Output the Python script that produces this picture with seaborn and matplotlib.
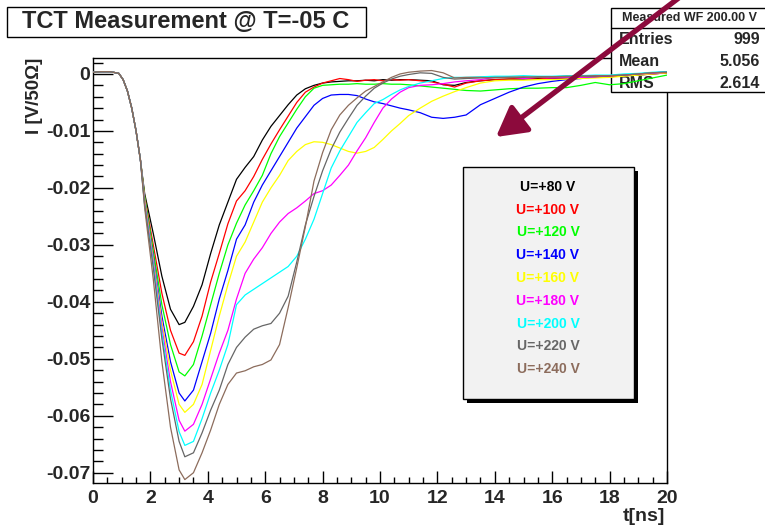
import numpy as np
import pandas as pd
import matplotlib
matplotlib.use("Agg")
import matplotlib.pyplot as plt
from matplotlib.patches import Rectangle
from matplotlib.ticker import MultipleLocator, FuncFormatter
import seaborn as sns

# bias voltages and colours (ROOT style)
voltages = ["U=+80 V", "U=+100 V", "U=+120 V", "U=+140 V", "U=+160 V",
            "U=+180 V", "U=+200 V", "U=+220 V", "U=+240 V"]
colors = ["#000000", "#ff0000", "#00ff00", "#0000ff", "#ffff00",
          "#ff00ff", "#00ffff", "#666666", "#8c6c5c"]

# time samples [ns]; the first part is common to all waveforms
t_head = [0.0, 0.3, 0.6, 0.9, 1.05, 1.2, 1.35, 1.5, 1.65]
i_head = [0.3, 0.4, 0.4, 0.1, -1.0, -3.0, -6.0, -10.0, -15.0]   # mV/50 Ohm
t_tail = [1.8, 2.1, 2.4, 2.7, 3.0, 3.2, 3.5, 3.8, 4.1, 4.4, 4.7, 5.0, 5.3,
          5.6, 5.9, 6.2, 6.5, 6.8, 7.1, 7.4, 7.7, 8.0, 8.3, 8.6, 8.9, 9.2,
          9.5, 9.8, 10.1, 10.4, 10.7, 11.0, 11.4, 11.8, 12.2, 12.6, 13.0,
          13.5, 14.0, 14.5, 15.0, 15.5, 16.0, 16.5, 17.0, 17.5, 18.0, 18.5,
          19.0, 19.5, 20.0]

i_80 = [-21.0, -28.0, -35.5, -41.3, -44.0, -43.6, -40.8, -37.0, -31.5, -26.5,
        -22.5, -18.5, -16.4, -14.5, -11.6, -9.2, -7.3, -5.4, -3.7, -2.6, -2.0,
        -1.6, -1.4, -1.3, -1.2, -1.2, -1.1, -1.2, -1.0, -1.1, -1.0, -1.0, -1.1,
        -1.2, -1.9, -2.0, -1.5, -1.2, -1.0, -0.9, -0.9, -0.8, -0.8, -0.7, -0.6,
        -0.6, -0.5, -0.3, -0.2, 0.0, 0.2]
i_100 = [-21.5, -30.0, -38.5, -45.0, -49.0, -49.4, -47.0, -42.5, -36.5, -31.5,
         -26.3, -22.3, -20.5, -18.0, -15.0, -12.3, -9.8, -7.4, -5.0, -3.2, -2.3,
         -1.6, -1.2, -0.8, -1.0, -1.3, -1.1, -1.0, -1.2, -1.0, -1.1, -1.0, -1.2,
         -1.4, -1.8, -2.3, -1.6, -1.2, -1.0, -0.9, -0.8, -0.9, -0.7, -0.7, -0.6,
         -0.5, -0.5, -0.3, -0.1, 0.0, 0.2]
i_120 = [-21.5, -31.0, -40.5, -47.5, -52.3, -53.0, -51.0, -46.0, -40.5, -35.0,
         -30.0, -26.2, -23.0, -20.5, -17.8, -14.0, -11.0, -8.6, -6.2, -4.0, -2.5,
         -2.0, -1.9, -1.8, -1.8, -1.7, -1.8, -1.8, -1.7, -1.8, -1.8, -1.9, -2.1,
         -2.3, -2.5, -2.7, -2.9, -3.0, -2.8, -2.6, -2.5, -2.5, -2.4, -2.4, -2.0,
         -1.5, -1.9, -1.7, -1.2, -0.7, -0.2]
i_140 = [-22.0, -32.0, -42.5, -50.5, -56.0, -57.4, -55.5, -50.5, -45.5, -39.5,
         -34.5, -29.0, -26.5, -22.5, -19.5, -17.0, -14.5, -12.0, -9.5, -7.5, -5.5,
         -4.3, -3.7, -3.6, -3.6, -3.8, -4.4, -4.9, -5.2, -5.6, -6.0, -6.3, -6.8,
         -7.6, -7.8, -7.6, -7.2, -5.4, -4.3, -3.2, -2.3, -1.7, -1.3, -1.0, -0.8,
         -0.5, -0.3, -0.2, 0.0, 0.2, 0.4]
i_160 = [-22.0, -32.5, -43.5, -52.0, -58.0, -59.4, -58.0, -54.5, -48.5, -42.5,
         -37.0, -32.0, -29.5, -26.0, -22.5, -20.0, -17.8, -15.2, -13.6, -12.4,
         -11.9, -12.0, -12.4, -13.0, -13.6, -13.9, -13.6, -12.9, -11.5, -10.0,
         -8.7, -7.3, -6.0, -4.8, -3.9, -3.1, -2.4, -1.6, -1.2, -1.1, -1.1, -1.0,
         -1.0, -0.9, -0.8, -0.7, -0.6, -0.4, -0.2, 0.0, 0.2]
i_180 = [-22.5, -33.0, -44.5, -54.0, -60.8, -62.7, -61.5, -58.0, -53.5, -49.0,
         -45.0, -39.5, -35.0, -32.5, -30.5, -28.0, -26.0, -24.5, -23.5, -22.3,
         -21.0, -20.5, -19.5, -17.8, -16.0, -13.5, -11.2, -8.5, -6.0, -4.4, -3.2,
         -2.4, -2.0, -1.9, -1.7, -1.4, -1.2, -1.0, -0.6, -0.5, -0.8, -0.6, -0.7,
         -0.6, -0.6, -0.5, -0.3, -0.2, 0.0, 0.1, 0.3]
i_200 = [-23.0, -33.5, -45.5, -55.5, -62.8, -65.2, -64.5, -60.5, -56.0, -52.0,
         -47.5, -40.5, -38.8, -37.8, -36.8, -35.8, -34.8, -33.8, -32.0, -29.0,
         -25.5, -21.0, -16.5, -13.5, -11.0, -8.5, -6.8, -5.2, -4.5, -3.6, -2.8,
         -2.2, -1.6, -1.2, -0.8, -0.6, -0.6, -0.5, -0.4, -0.4, -0.3, -0.4, -0.4,
         -0.3, -0.3, -0.2, -0.2, 0.0, 0.1, 0.3, 0.4]
i_220 = [-23.0, -34.0, -46.5, -57.0, -64.5, -67.2, -66.5, -63.0, -59.0, -55.5,
         -51.0, -48.0, -46.2, -44.8, -44.2, -43.8, -42.0, -39.0, -33.0, -26.5,
         -21.5, -17.0, -13.2, -10.2, -7.8, -5.5, -3.9, -2.5, -1.6, -0.9, -0.4,
         -0.1, 0.2, 0.1, -0.6, -0.9, -0.8, -0.7, -0.6, -0.6, -0.6, -0.5, -0.5,
         -0.5, -0.4, -0.4, -0.3, -0.2, 0.0, 0.2, 0.3]
i_240 = [-23.5, -36.0, -50.5, -62.0, -69.5, -71.2, -70.0, -66.5, -62.5, -58.0,
         -54.5, -52.5, -52.1, -51.4, -51.0, -50.2, -47.5, -41.0, -34.0, -26.8,
         -18.8, -13.8, -9.8, -7.2, -5.5, -4.2, -3.0, -2.2, -1.4, -0.6, 0.0, 0.3,
         0.5, 0.6, 0.2, -0.7, -0.6, -0.6, -0.7, -0.6, -0.5, -0.6, -0.5, -0.4,
         -0.4, -0.3, -0.3, -0.2, 0.0, 0.2, 0.3]
waveforms = [i_80, i_100, i_120, i_140, i_160, i_180, i_200, i_220, i_240]

stats_title = "Measured WF 200.00 V"
stats_names = ["Entries", "Mean", "RMS"]
stats_values = ["999", "5.056", "2.614"]

rows = []
for lab, wf in zip(voltages, waveforms):
    for t, v in zip(t_head + t_tail, i_head + wf):
        rows.append((lab, t, v / 1000.0))
df = pd.DataFrame(rows, columns=["U", "t", "I"])

sns.set_style("white")
plt.rcParams["font.family"] = ["Liberation Sans", "DejaVu Sans"]
plt.rcParams["font.weight"] = "bold"
plt.rcParams["axes.unicode_minus"] = False

W, H = 765, 532
fig = plt.figure(figsize=(W / 100, H / 100), dpi=100)
ax = fig.add_axes([93 / W, 1 - 483 / H, 574 / W, 425 / H])

def fx(x): return x / W
def fy(y): return 1 - y / H

sns.lineplot(data=df, x="t", y="I", hue="U", palette=colors, estimator=None,
             sort=False, legend=False, lw=0.9, ax=ax)

ax.set_xlim(0, 20)
ax.set_ylim(-0.0718, 0.0028)
ax.xaxis.set_major_locator(MultipleLocator(2))
ax.xaxis.set_minor_locator(MultipleLocator(0.5))
ax.yaxis.set_major_locator(MultipleLocator(0.01))
ax.yaxis.set_minor_locator(MultipleLocator(0.002))
ax.yaxis.set_major_formatter(FuncFormatter(lambda v, p: f"{round(v, 3):g}"))
ax.xaxis.set_major_formatter(FuncFormatter(lambda v, p: f"{v:g}"))
ax.tick_params(axis="both", which="both", direction="in", color="black",
               width=1.0, labelsize=14, bottom=True, left=True,
               top=False, right=False)
ax.tick_params(axis="x", which="major", length=9, pad=5)
ax.tick_params(axis="x", which="minor", length=4.5)
ax.tick_params(axis="y", which="major", length=14.5, pad=2)
ax.tick_params(axis="y", which="minor", length=7.2)
for lbl in ax.get_xticklabels() + ax.get_yticklabels():
    lbl.set_fontweight("bold")
for s in ax.spines.values():
    s.set_color("black")
    s.set_linewidth(1.0)
    s.set_zorder(1)

ax.set_xlabel("t[ns]", fontsize=14, fontweight="bold", loc="right")
ax.xaxis.set_label_coords((665 - 93) / 574, (483 - 508) / 425)
ax.set_ylabel("I [V/50\u03a9]", fontsize=13.5, fontweight="bold", loc="top")
ax.yaxis.set_label_coords((43 - 93) / 574, 1.0)

# title box
fig.add_artist(Rectangle((fx(7), fy(37)), fx(359), 30 / H, transform=fig.transFigure,
                         fc="white", ec="black", lw=1.0))
fig.text(fx(186), fy(22), "TCT Measurement @ T=-05 C", ha="center", va="center",
         fontsize=17, fontweight="bold")

# stats box (under the curves)
ax.add_patch(Rectangle((fx(611), fy(92)), fx(170), 84 / H, transform=fig.transFigure,
                       fc="white", ec="black", lw=1.0, zorder=1.5, clip_on=False))
ax.add_line(plt.Line2D([fx(611), 1.0], [fy(28), fy(28)], transform=fig.transFigure,
                       color="black", lw=1.0, zorder=1.6, clip_on=False))
ax.text(fx(689), fy(18), stats_title, transform=fig.transFigure, ha="center",
        va="center", fontsize=9, fontweight="bold", zorder=1.7, clip_on=False)
for k, (nm, val) in enumerate(zip(stats_names, stats_values)):
    yy = fy(40 + 21.5 * k)
    ax.text(fx(619), yy, nm, transform=fig.transFigure, ha="left", va="center",
            fontsize=11.5, fontweight="bold", zorder=1.7, clip_on=False)
    ax.text(fx(760), yy, val, transform=fig.transFigure, ha="right", va="center",
            fontsize=11.5, fontweight="bold", zorder=1.7, clip_on=False)

# legend box with shadow
ax.add_patch(Rectangle((fx(467), fy(403)), fx(171), 232 / H, transform=fig.transFigure,
                       fc="black", ec="black", lw=0, zorder=3, clip_on=False))
ax.add_patch(Rectangle((fx(463), fy(399)), fx(171), 232 / H, transform=fig.transFigure,
                       fc="#f2f2f2", ec="black", lw=1.0, zorder=3.1, clip_on=False))
for k, (lab, col) in enumerate(zip(voltages, colors)):
    ax.text(fx(548), fy(187 + 22.75 * k), lab, transform=fig.transFigure, color=col,
            ha="center", va="center", fontsize=10, fontweight="bold", zorder=3.2,
            clip_on=False)

# arrow
ax.annotate("", xy=(fx(496), fy(137)), xytext=(fx(680), fy(-3)),
            xycoords="figure fraction", textcoords="figure fraction",
            arrowprops=dict(arrowstyle="-|>,head_length=0.45,head_width=0.25",
                            mutation_scale=40, lw=3.8, color="#8c0a3c",
                            shrinkA=0, shrinkB=0),
            annotation_clip=False, zorder=5)

fig.savefig("out.png", dpi=100)
